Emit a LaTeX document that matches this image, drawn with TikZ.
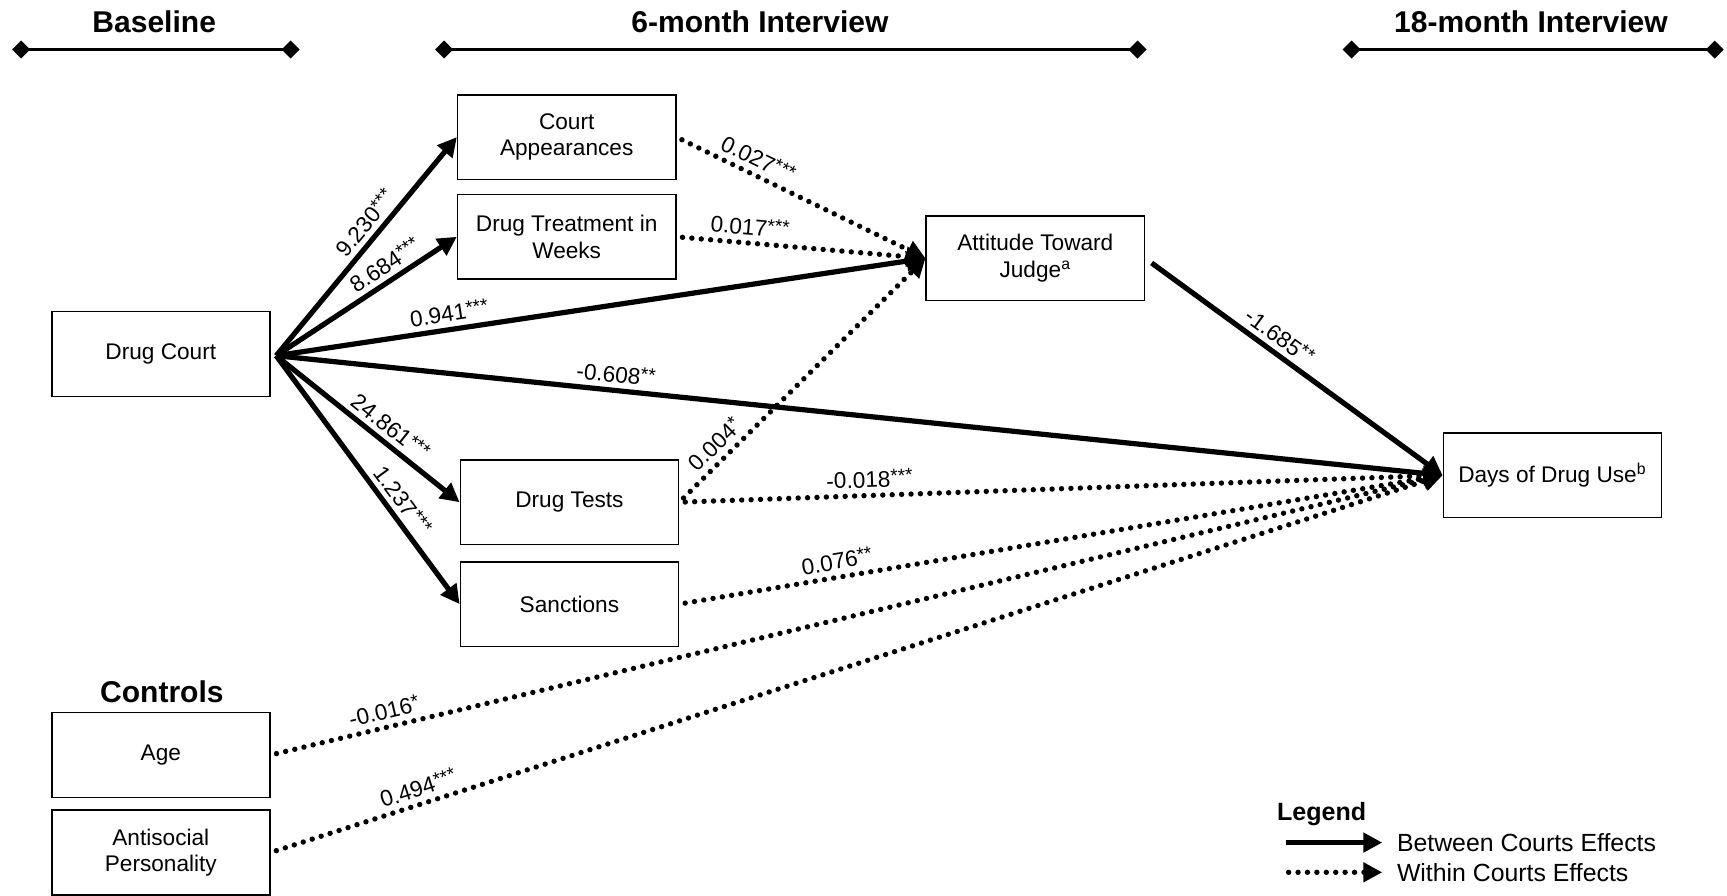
\documentclass[tikz,border=0pt]{standalone}
\usepackage{fontspec}
\setmainfont{Liberation Sans}
\usetikzlibrary{arrows.meta}

\newcommand{\sig}[1]{\raisebox{0.2em}{\fontsize{9.5}{10}\selectfont#1}}

\tikzset{
    box/.style={draw, line width=0.8pt, minimum width=108.9pt, minimum height=42.35pt,
        align=center, inner sep=2pt, font=\fontsize{11.3}{13.2}\selectfont},
    between/.style={line width=2.6pt, -{Triangle[length=9.5pt,width=9.5pt]}},
    within/.style={line width=2.7pt, line cap=round, dash pattern=on 0pt off 4.7pt,
        -{Triangle[length=9.5pt,width=9.5pt]}},
    coef/.style={sloped, above, inner sep=2.5pt, font=\fontsize{11.3}{13}\selectfont},
    period/.style={line width=1.3pt, {Diamond[length=9pt,width=9pt]}-{Diamond[length=9pt,width=9pt]}},
    heading/.style={font=\fontsize{15}{18}\selectfont\bfseries},
    legtext/.style={anchor=west, inner sep=0pt, font=\fontsize{12.4}{14}\selectfont}
}

\begin{document}
\begin{tikzpicture}[x=0.55pt,y=-0.55pt]
    \useasboundingbox (0,0) rectangle (1568,813);

    % time periods
    \node[heading] (tbase) at (140,20) {Baseline};
    \node[heading] (tsix) at (690,20) {6-month Interview};
    \node[heading] (teighteen) at (1390,20) {18-month Interview};
    \coordinate (base1) at (11,45);
    \coordinate (base2) at (272,45);
    \coordinate (six1) at (395,45);
    \coordinate (six2) at (1041,45);
    \coordinate (eighteen1) at (1219,45);
    \coordinate (eighteen2) at (1565,45);
    \draw[period] (base1) -- (base2);
    \draw[period] (six1) -- (six2);
    \draw[period] (eighteen1) -- (eighteen2);

    % variables
    \node[box] (drugcourt) at (146,321.5) {Drug Court};
    \node[box] (court) at (514.5,124.5) {Court\\Appearances};
    \node[box] (treat) at (514.5,215) {Drug Treatment in\\Weeks};
    \node[box] (tests) at (517,456) {Drug Tests};
    \node[box] (sanctions) at (517,548.5) {Sanctions};
    \node[box] (judge) at (940,234.5) {Attitude Toward\\Judge\textsuperscript{a}};
    \node[box] (days) at (1409.5,431.5) {Days of Drug Use\textsuperscript{b}};
    \node[heading] (controls) at (147,628) {Controls};
    \node[box] (age) at (146,685.5) {Age};
    \node[box] (antisoc) at (146,774) {Antisocial\\Personality};

    % between courts effects
    \coordinate (dc) at ([xshift=2.75pt,yshift=-0.8pt]drugcourt.east);
    \draw[between] (dc) -- node[coef,pos=0.56] {9.230\sig{***}} (court.west);
    \draw[between] (dc) -- node[coef,pos=0.65] {8.684\sig{***}} (treat.west);
    \draw[between] (dc) -- node[coef,pos=0.27] {0.941\sig{***}} (judge.west);
    \draw[between] (dc) -- node[coef,pos=0.29] {-0.608\sig{**}} (days.west);
    \draw[between] (dc) -- node[coef,pos=0.57] {24.861\sig{***}} (tests.west);
    \draw[between] (dc) -- node[coef,pos=0.62] {1.237\sig{***}} (sanctions.west);
    \draw[between,shorten <=4pt] (judge.east) -- node[coef,pos=0.42] {-1.685\sig{**}} (days.west);

    % within courts effects
    \draw[within,shorten <=3pt] (court.east) -- node[coef,pos=0.3] {0.027\sig{***}} (judge.west);
    \draw[within,shorten <=3pt] (treat.east) -- node[coef,pos=0.29] {0.017\sig{***}} (judge.west);
    \draw[within,shorten <=3pt] (tests.east) -- node[coef,pos=0.19] {0.004\sig{*}} (judge.west);
    \draw[within,shorten <=3pt] (tests.east) -- node[coef,pos=0.25] {-0.018\sig{***}} (days.west);
    \draw[within,shorten <=3pt] (sanctions.east) -- node[coef,pos=0.21] {0.076\sig{**}} (days.west);
    \draw[within,shorten <=3pt] (age.east) -- node[coef,pos=0.1] {-0.016\sig{*}} (days.west);
    \draw[within,shorten <=3pt] (antisoc.east) -- node[coef,pos=0.13] {0.494\sig{***}} (days.west);

    % legend
    \node[font=\fontsize{12.5}{14}\selectfont\bfseries] (legend) at (1200,739) {Legend};
    \coordinate (leg1a) at (1168,765);
    \coordinate (leg1b) at (1255,765);
    \coordinate (leg2a) at (1170,792);
    \coordinate (leg2b) at (1255,792);
    \draw[between] (leg1a) -- (leg1b);
    \draw[within] (leg2a) -- (leg2b);
    \node[legtext] (legbetween) at (1268,765) {Between Courts Effects};
    \node[legtext] (legwithin) at (1268,792) {Within Courts Effects};
\end{tikzpicture}
\end{document}
